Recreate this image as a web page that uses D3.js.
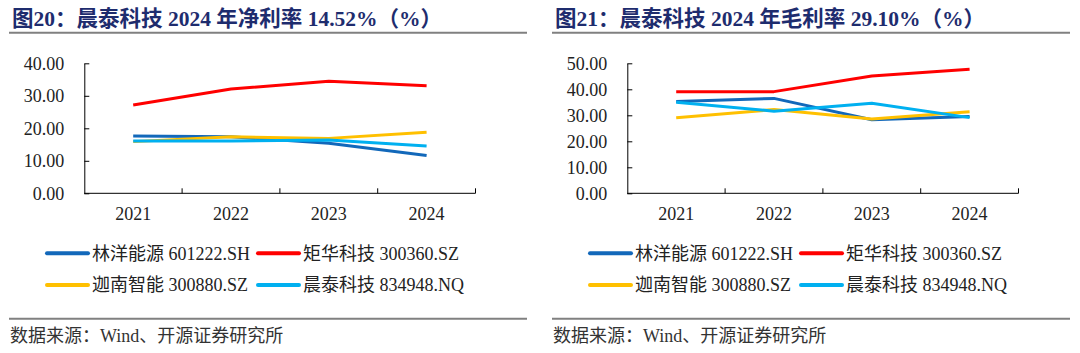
<!DOCTYPE html>
<html>
<head>
<meta charset="utf-8">
<script src="https://cdn.jsdelivr.net/npm/d3@7"></script>
<style>
  body { margin: 0; background: #fff; }
  svg { display: block; }
  .axis text { font-family: "Liberation Serif", "Times New Roman", serif; font-size: 18px; fill: #222; }
  .axis path, .axis line { stroke: #000; }
</style>
</head>
<body>
<svg id="chart" width="1080" height="353"></svg>
<script>
// categories + series
const years = ["2021", "2022", "2023", "2024"];
const seriesNames = ["林洋能源 601222.SH", "矩华科技 300360.SZ", "迦南智能 300880.SZ", "晨泰科技 834948.NQ"];
const seriesColors = ["#1268BA", "#FF0000", "#FFC000", "#00B0F0"];

// net margin (%)
const netLinyang = [17.6, 17.4, 15.4, 11.6];
const netJuhua = [27.2, 32.1, 34.5, 33.1];
const netJianan = [15.9, 17.4, 16.9, 18.8];
const netChentai = [16.1, 16.1, 16.4, 14.52];
const netTicks = [0, 10, 20, 30, 40];

// gross margin (%)
const grossLinyang = [35.3, 36.5, 28.3, 29.5];
const grossJuhua = [39.1, 39.1, 45.1, 47.7];
const grossJianan = [29.1, 32.2, 28.6, 31.4];
const grossChentai = [35.0, 31.6, 34.6, 29.10];
const grossTicks = [0, 10, 20, 30, 40, 50];

const titles = ["图20：晨泰科技 2024 年净利率 14.52%（%）", "图21：晨泰科技 2024 年毛利率 29.10%（%）"];
const sourceText = "数据来源：Wind、开源证券研究所";

const svg = d3.select("#chart");
const textFont = '"Liberation Serif", "Noto Sans CJK SC", serif';

function drawPanel(offsetX, title, seriesData, ticks) {
    const g = svg.append("g").attr("transform", `translate(${offsetX},0)`);

    // title + rule
    g.append("text")
        .attr("x", 12).attr("y", 26)
        .style("font-family", textFont)
        .style("font-size", "21.5px")
        .style("font-weight", "bold")
        .attr("fill", "#1E2C6E")
        .text(title);
    g.append("line")
        .attr("x1", 9).attr("x2", 527).attr("y1", 32.7).attr("y2", 32.7)
        .attr("stroke", "#808080").attr("stroke-width", 2);

    const left = 84.3, right = 475.5, top = 63.3, bottom = 193.3;

    const x = d3.scaleBand().domain(years).range([left, right]).padding(0);
    const y = d3.scaleLinear().domain([0, d3.max(ticks)]).range([bottom, top]);

    // y axis
    g.append("g")
        .attr("class", "axis")
        .attr("transform", `translate(${left},0)`)
        .call(d3.axisLeft(y).tickValues(ticks).tickSize(-5).tickSizeOuter(0).tickPadding(20).tickFormat(d3.format(".2f")));

    // x axis labels
    g.append("g")
        .attr("class", "axis")
        .attr("transform", `translate(0,${bottom})`)
        .call(d3.axisBottom(x).tickSize(0).tickPadding(13.5))
        .call(a => a.select(".domain").remove());

    // x axis line + category boundary ticks
    g.append("line")
        .attr("x1", left).attr("x2", right).attr("y1", bottom).attr("y2", bottom)
        .attr("stroke", "#000");
    g.selectAll(".bound")
        .data(years)
        .join("line")
        .attr("class", "bound")
        .attr("x1", d => x(d) + x.bandwidth()).attr("x2", d => x(d) + x.bandwidth())
        .attr("y1", bottom).attr("y2", bottom - 5)
        .attr("stroke", "#000");

    // lines
    const line = d3.line()
        .x((d, i) => x(years[i]) + x.bandwidth() / 2)
        .y(d => y(d));
    seriesData.forEach((vals, k) => {
        g.append("path")
            .datum(vals)
            .attr("d", line)
            .attr("fill", "none")
            .attr("stroke", seriesColors[k])
            .attr("stroke-width", 3)
            .attr("stroke-linejoin", "round");
    });

    // legend
    const legendX = [47, 258];
    const legendY = [253.3, 285];
    seriesNames.forEach((name, k) => {
        const lx = legendX[k % 2], ly = legendY[Math.floor(k / 2)];
        g.append("line")
            .attr("x1", lx).attr("x2", lx + 41).attr("y1", ly).attr("y2", ly)
            .attr("stroke", seriesColors[k]).attr("stroke-width", 4).attr("stroke-linecap", "round");
        g.append("text")
            .attr("x", lx + 45).attr("y", ly)
            .attr("dy", "0.35em")
            .style("font-family", textFont)
            .style("font-size", "18px")
            .attr("fill", "#222")
            .text(name);
    });

    // source
    g.append("line")
        .attr("x1", 9).attr("x2", 527).attr("y1", 318.7).attr("y2", 318.7)
        .attr("stroke", "#808080").attr("stroke-width", 2);
    g.append("text")
        .attr("x", 10).attr("y", 342)
        .style("font-family", textFont)
        .style("font-size", "18px")
        .attr("fill", "#333")
        .text(sourceText);
}

drawPanel(0, titles[0], [netLinyang, netJuhua, netJianan, netChentai], netTicks);
drawPanel(543, titles[1], [grossLinyang, grossJuhua, grossJianan, grossChentai], grossTicks);
</script>
</body>
</html>
